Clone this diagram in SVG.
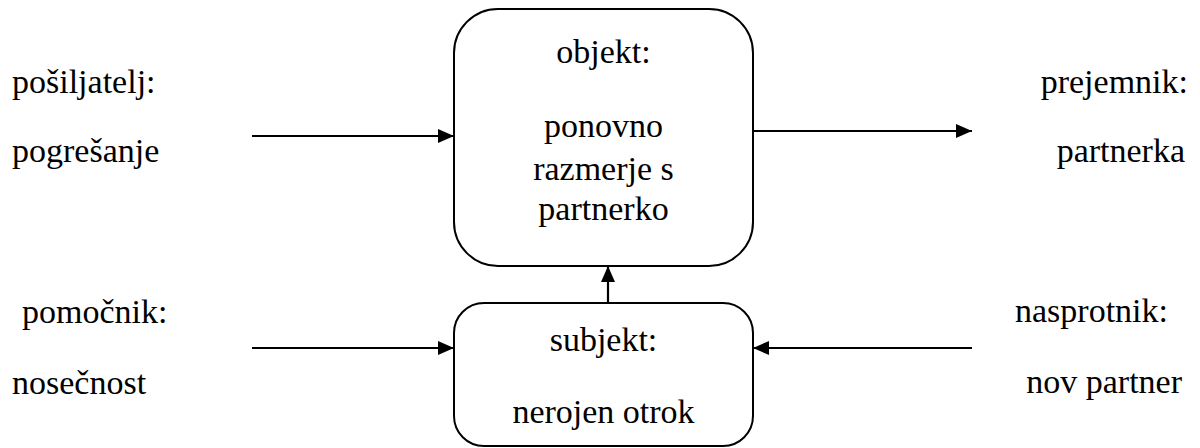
<svg xmlns="http://www.w3.org/2000/svg" width="1200" height="448" viewBox="0 0 1200 448">
  <defs>
    <marker id="head" viewBox="0 0 16 14" refX="16" refY="7" markerWidth="16" markerHeight="14" markerUnits="userSpaceOnUse" orient="auto">
      <path d="M0,0 L16,7 L0,14 Z" fill="#000000"/>
    </marker>
  </defs>

  <rect width="1200" height="448" fill="#ffffff"/>

  <!-- connectors: 2px lines ending in a filled triangular head -->
  <g id="connectors" stroke="#000000" stroke-width="2.2" fill="none">
    <line x1="252" y1="136" x2="454" y2="136" marker-end="url(#head)"/>
    <line x1="753" y1="131" x2="972" y2="131" marker-end="url(#head)"/>
    <line x1="608" y1="303" x2="608" y2="266" marker-end="url(#head)"/>
    <line x1="252" y1="348" x2="454" y2="348" marker-end="url(#head)"/>
    <line x1="972" y1="348" x2="753" y2="348" marker-end="url(#head)"/>
  </g>

  <g id="objekt">
    <rect x="454" y="9" width="299" height="257" rx="44" ry="44" fill="#ffffff" stroke="#000000" stroke-width="2"/>
  </g>
  <g id="subjekt">
    <rect x="454" y="303" width="299" height="143" rx="30" ry="30" fill="#ffffff" stroke="#000000" stroke-width="2"/>
  </g>

  <text font-family="Liberation Serif" font-size="34" text-anchor="middle" x="603.5" y="63">objekt:</text>
  <text font-family="Liberation Serif" font-size="34" text-anchor="middle" x="603.5" y="137">ponovno</text>
  <text font-family="Liberation Serif" font-size="34" text-anchor="middle" x="603.5" y="180">razmerje s</text>
  <text font-family="Liberation Serif" font-size="34" text-anchor="middle" x="603.5" y="220">partnerko</text>
  <text font-family="Liberation Serif" font-size="34" text-anchor="middle" x="603.5" y="351">subjekt:</text>
  <text font-family="Liberation Serif" font-size="34" text-anchor="middle" x="603.5" y="423">nerojen otrok</text>
  <text font-family="Liberation Serif" font-size="34" x="12" y="93">pošiljatelj:</text>
  <text font-family="Liberation Serif" font-size="34" x="12" y="162">pogrešanje</text>
  <text font-family="Liberation Serif" font-size="34" text-anchor="end" x="1188" y="93">prejemnik:</text>
  <text font-family="Liberation Serif" font-size="34" text-anchor="end" x="1185" y="162">partnerka</text>
  <text font-family="Liberation Serif" font-size="34" x="22" y="323">pomočnik:</text>
  <text font-family="Liberation Serif" font-size="34" x="12" y="394">nosečnost</text>
  <text font-family="Liberation Serif" font-size="34" text-anchor="end" x="1168" y="322">nasprotnik:</text>
  <text font-family="Liberation Serif" font-size="34" text-anchor="end" x="1182" y="393">nov partner</text>
</svg>
